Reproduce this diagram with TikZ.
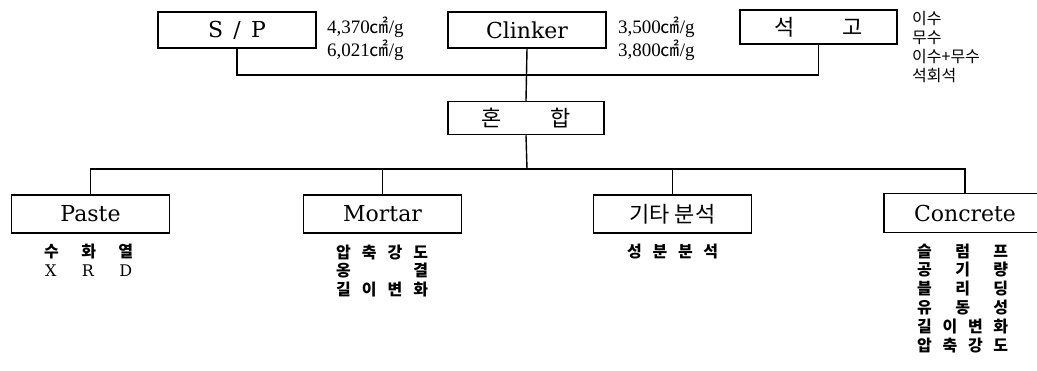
\documentclass[tikz,border=0pt]{standalone}
\usepackage{fontspec}
\setmainfont{DejaVu Serif}
\newfontfamily\kr{Noto Sans CJK KR}
\newfontfamily\annfont{Liberation Serif}
\newcommand\cmsq{{\kr ㎠}}
\newcommand\spreadtext[2]{\makebox[#1][s]{#2}}
\begin{document}
\begin{tikzpicture}[x=1pt,y=-1pt,
  box/.style={draw, line width=1.5pt, minimum width=158pt, minimum height=36pt, inner sep=0pt,
    font=\fontsize{22}{22}\selectfont},
  krbox/.style={box, font=\kr\fontsize{22}{22}\selectfont},
  ann/.style={anchor=west, inner sep=0pt, font=\annfont\fontsize{19}{19}\selectfont},
  krann/.style={anchor=west, inner sep=0pt, font=\kr\fontsize{16}{16}\selectfont},
  sub/.style={anchor=west, inner sep=0pt, font=\kr\bfseries\fontsize{16}{16}\selectfont},
  conn/.style={line width=1.4pt}]
\clip (0,0) rectangle (1037,370);
\fill[white] (0,0) rectangle (1037,370);
% top row
\node[box] (sp) at (237,30) {\spreadtext{58pt}{S\hfill /\hfill P}};
\node[box] (cl) at (527,30) {Clinker};
\node[krbox, minimum width=157pt, minimum height=34pt] (gy) at (818.5,27) {\spreadtext{88pt}{석\hfill 고}};
\node[ann] (a1) at (327,27) {4,370\cmsq/g};
\node[ann] (a2) at (327,50) {6,021\cmsq/g};
\node[ann] (a3) at (618,27) {3,500\cmsq/g};
\node[ann] (a4) at (618,50) {3,800\cmsq/g};
\node[krann] (g1) at (912,19) {이수};
\node[krann] (g2) at (912,38) {무수};
\node[krann] (g3) at (912,57) {이수+무수};
\node[krann] (g4) at (912,76) {석회석};
% mix
\node[krbox, minimum width=156pt, minimum height=33pt] (mix) at (526,118) {\spreadtext{90pt}{혼\hfill 합}};
% bottom row
\node[box, minimum height=38pt] (paste) at (90.5,214) {Paste};
\node[box, minimum height=38pt] (mortar) at (382.5,214) {Mortar};
\node[krbox, minimum height=38pt] (etc) at (672.5,214) {기타 분석};
\node[box, minimum width=162pt, minimum height=39pt] (conc) at (965,213) {Concrete};
% connectors
\coordinate (tb) at (527,75);
\coordinate (bb) at (527,169);
\draw[conn] (sp.south) |- (tb) -| (gy.south);
\draw[conn] (cl.south) -- (mix.north);
\draw[conn] (mix.south) -- (bb);
\draw[conn] (paste.north) |- (bb) -| (conc.north);
\draw[conn] (mortar.north) -- (mortar.north |- bb);
\draw[conn] (etc.north) -- (etc.north |- bb);
% sub labels
\node[sub] (p1) at (44,252) {\spreadtext{89pt}{수\hfill 화\hfill 열}};
\node[sub, font=\fontsize{16}{16}\selectfont] (p2) at (45,271) {\spreadtext{87pt}{X\hfill R\hfill D}};
\node[sub] (m1) at (336,253) {\spreadtext{92pt}{압\hfill 축\hfill 강\hfill 도}};
\node[sub] (m2) at (336,271) {\spreadtext{92pt}{옹\hfill 결}};
\node[sub] (m3) at (336,290) {\spreadtext{92pt}{길\hfill 이\hfill 변\hfill 화}};
\node[sub] (e1) at (627,252) {\spreadtext{91pt}{성\hfill 분\hfill 분\hfill 석}};
\node[sub] (c1) at (917,251) {\spreadtext{91pt}{슬\hfill 럼\hfill 프}};
\node[sub] (c2) at (917,270) {\spreadtext{91pt}{공\hfill 기\hfill 량}};
\node[sub] (c3) at (917,289) {\spreadtext{91pt}{블\hfill 리\hfill 딩}};
\node[sub] (c4) at (917,308) {\spreadtext{91pt}{유\hfill 동\hfill 성}};
\node[sub] (c5) at (917,327) {\spreadtext{91pt}{길\hfill 이\hfill 변\hfill 화}};
\node[sub] (c6) at (917,346) {\spreadtext{91pt}{압\hfill 축\hfill 강\hfill 도}};
\end{tikzpicture}
\end{document}
